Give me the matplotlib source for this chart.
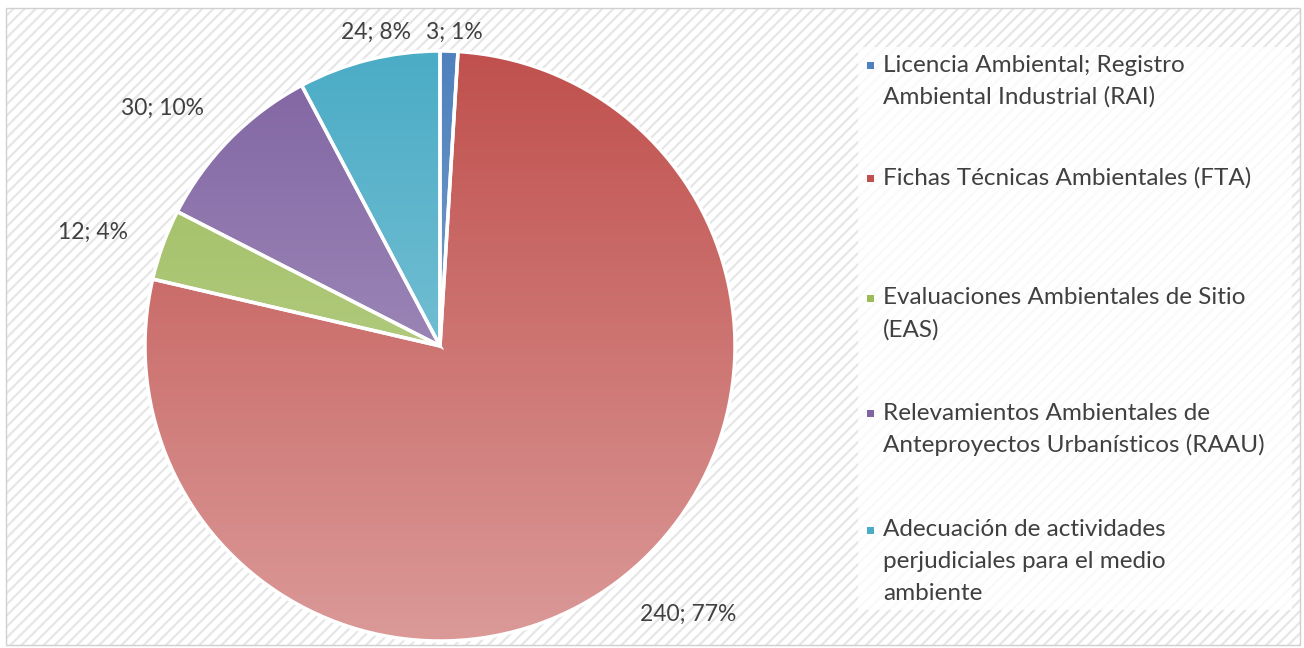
"""Pie chart: distribución de trámites ambientales."""

import matplotlib

matplotlib.use("Agg")
import matplotlib.pyplot as plt
import numpy as np
from matplotlib.patches import Rectangle

categories = [
    "Licencia Ambiental; Registro\nAmbiental Industrial (RAI)",
    "Fichas Técnicas Ambientales (FTA)",
    "Evaluaciones Ambientales de Sitio\n(EAS)",
    "Relevamientos Ambientales de\nAnteproyectos Urbanísticos (RAAU)",
    "Adecuación de actividades\nperjudiciales para el medio\nambiente",
]
counts = [3, 240, 12, 30, 24]
percents = [1, 77, 4, 10, 8]

colors = ["#4F81BD", "#C0504D", "#9BBB59", "#8064A2", "#4BACC6"]
# label placement (radius factor, angle nudge in degrees), Excel "best fit" look
label_radius = [1.066, 1.24, 1.238, 1.238, 1.086]
label_shift = [-0.9, 6.0, 1.9, 3.9, -2.4]

W, H = 1304, 648
TEXT = "#404040"
plt.rcParams["font.family"] = ["Lato", "DejaVu Sans"]
plt.rcParams["hatch.linewidth"] = 1.6


def fx(px):
    return px / W


def fy(py):
    return 1 - py / H


fig = plt.figure(figsize=(W / 100, H / 100), dpi=100, facecolor="white")

# chart area: hatched background + thin border, white legend block
fig.add_artist(Rectangle((fx(6), fy(645)), fx(1300) - fx(6), fy(8) - fy(645),
                         transform=fig.transFigure, facecolor="white",
                         edgecolor="#e6e6e6", linewidth=0, hatch="///", zorder=0))
fig.add_artist(Rectangle((fx(6), fy(645)), fx(1300) - fx(6), fy(8) - fy(645),
                         transform=fig.transFigure, fill=False,
                         edgecolor="#d0d0d0", linewidth=1, zorder=1))
fig.add_artist(Rectangle((fx(858), fy(610)), fx(1292) - fx(858), fy(47) - fy(610),
                         transform=fig.transFigure, facecolor="white",
                         edgecolor="none", alpha=0.8, zorder=1))

# pie axes: centre (440, 346), radius 295 px
cx, cy, R = 440, 346, 295
half = 300
ax = fig.add_axes([fx(cx - half), fy(cy + half), 2 * half / W, 2 * half / H])
ax.axis("off")
ax.patch.set_alpha(0)

wedges, _ = ax.pie(counts, colors=colors, startangle=90, counterclock=False,
                   radius=1, wedgeprops=dict(edgecolor="white", linewidth=2.5))

# vertical gradient: base colour at top, lighter toward the bottom
t = np.linspace(0, 1, 256)[:, None]
for w, c in zip(wedges, colors):
    base = np.array(matplotlib.colors.to_rgb(c))
    grad = base * (1 - 0.42 * t) + 0.42 * t
    img = np.repeat(grad[:, None, :], 2, axis=1)
    im = ax.imshow(img, extent=[-1, 1, -1, 1], origin="upper", aspect="auto",
                   zorder=2, interpolation="bilinear")
    im.set_clip_path(w)
    w.set_facecolor("none")
    w.set_zorder(3)
ax.set_xlim(-half / R, half / R)
ax.set_ylim(-half / R, half / R)

for w, n, p, r, s in zip(wedges, counts, percents, label_radius, label_shift):
    ang = np.deg2rad((w.theta1 + w.theta2) / 2 + s)
    ax.text(r * np.cos(ang), r * np.sin(ang), f"{n}; {p}%", ha="center",
            va="center", fontsize=16.5, color=TEXT, zorder=4)

# legend, Excel style: small squares and wrapped labels
first_line = [65, 178, 298, 413, 530]
pitch = 32
for label, c, y0 in zip(categories, colors, first_line):
    fig.add_artist(Rectangle((fx(867), fy(y0 + 4)), 7 / W, 7 / H,
                             transform=fig.transFigure, facecolor=c,
                             edgecolor="none", zorder=3))
    for k, line in enumerate(label.split("\n")):
        fig.text(fx(883), fy(y0 + k * pitch), line, ha="left", va="center",
                 fontsize=17.5, color=TEXT, zorder=3)

fig.savefig("out.png", dpi=100, facecolor="white")
